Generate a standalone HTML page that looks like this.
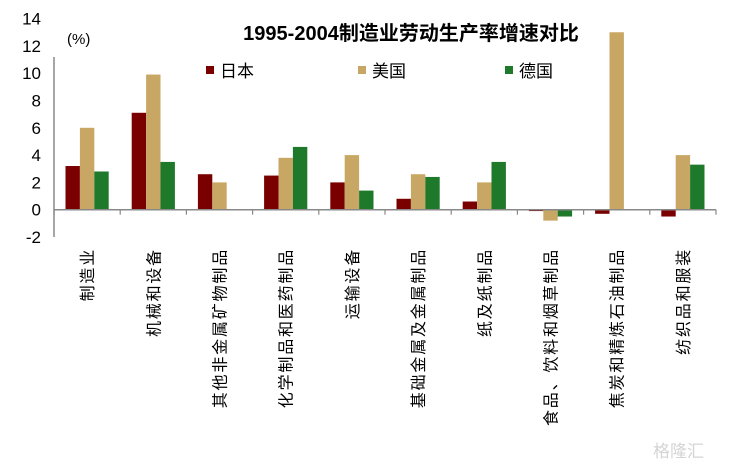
<!DOCTYPE html>
<html><head><meta charset="utf-8"><style>
html,body{margin:0;padding:0;background:#fff;}
svg{display:block;font-family:"Liberation Sans","Noto Sans CJK SC",sans-serif;}
</style></head><body>
<svg id="chart" width="736" height="466" viewBox="0 0 736 466">
<text x="411" y="40" text-anchor="middle" font-size="20" font-weight="bold" fill="#000">1995-2004制造业劳动生产率增速对比</text>
<text x="67" y="44" font-size="15" fill="#000">(%)</text>
<g id="legend"></g>
<g id="yaxis"></g>
<g id="bars"></g>
<g id="xaxis"></g>
<text x="704" y="457" text-anchor="end" font-size="17" fill="#d4d4d4">格隆汇</text>
</svg>
<script>
const categories=["制造业","机械和设备","其他非金属矿物制品","化学制品和医药制品","运输设备","基础金属及金属制品","纸及纸制品","食品、饮料和烟草制品","焦炭和精炼石油制品","纺织品和服装"];
const japan=[3.2,7.1,2.6,2.5,2.0,0.8,0.6,-0.1,-0.3,-0.5];
const usa=[6.0,9.9,2.0,3.8,4.0,2.6,2.0,-0.8,13.0,4.0];
const germany=[2.8,3.5,null,4.6,1.4,2.4,3.5,-0.5,null,3.3];
const seriesNames=["日本","美国","德国"];
const yTicks=[-2,0,2,4,6,8,10,12,14];

const NS="http://www.w3.org/2000/svg";
const colors=["#7a0000","#c8a764","#1e7a2a"];
const x0=54,x1=716,zeroY=209.7,perUnit=13.65;
const bw=(x1-x0)/categories.length;
function y(v){return zeroY-v*perUnit;}
function mk(tag,attrs,parent){const e=document.createElementNS(NS,tag);for(const k in attrs)e.setAttribute(k,attrs[k]);parent.appendChild(e);return e;}

const ya=document.getElementById('yaxis');
const yl=mk('line',{x1:x0,x2:x0,y1:57,y2:y(-2),stroke:'#888','stroke-width':1.5},ya);


yTicks.forEach(t=>{
  const tx=mk('text',{x:41,y:y(t)+6,'text-anchor':'end','font-size':17,fill:'#000'},ya);
  tx.textContent=String(t);
  
  
});

const xa=document.getElementById('xaxis');
const xl=mk('line',{x1:x0,x2:x1,y1:zeroY,y2:zeroY,stroke:'#888','stroke-width':1.5},xa);


for(let i=0;i<=categories.length;i++){
  const tk=mk('line',{x1:x0+i*bw,x2:x0+i*bw,y1:zeroY,y2:zeroY+5,stroke:'#888','stroke-width':1.2},xa);
  
  
}
categories.forEach((c,i)=>{
  const cx=x0+(i+0.5)*bw+6;
  const t=mk('text',{x:0,y:0,'text-anchor':'end','font-size':16,'letter-spacing':1.8,fill:'#000',transform:`translate(${cx},248) rotate(-90)`},xa);
  t.textContent=c;
  
  
});

const bg=document.getElementById('bars');
const barW=14.4;
[japan,usa,germany].forEach((s,si)=>{
  s.forEach((v,i)=>{
    if(v===null)return;
    const bx=x0+i*bw+(bw-3*barW)/2+si*barW;
    const top=Math.min(y(v),zeroY),h=Math.abs(y(v)-zeroY);
    const r=mk('rect',{x:bx,y:top,width:barW,height:h,fill:colors[si]},bg);
    
    
  });
});

const lg=document.getElementById('legend');
const lx=[206,358,505];
seriesNames.forEach((n,i)=>{
  const r=mk('rect',{x:lx[i],y:66,width:8,height:8,fill:colors[i]},lg);
  
  
  const t=mk('text',{x:lx[i]+14,y:77,'font-size':17,fill:'#000'},lg);
  t.textContent=n;
  
  
});
</script>
</body></html>
